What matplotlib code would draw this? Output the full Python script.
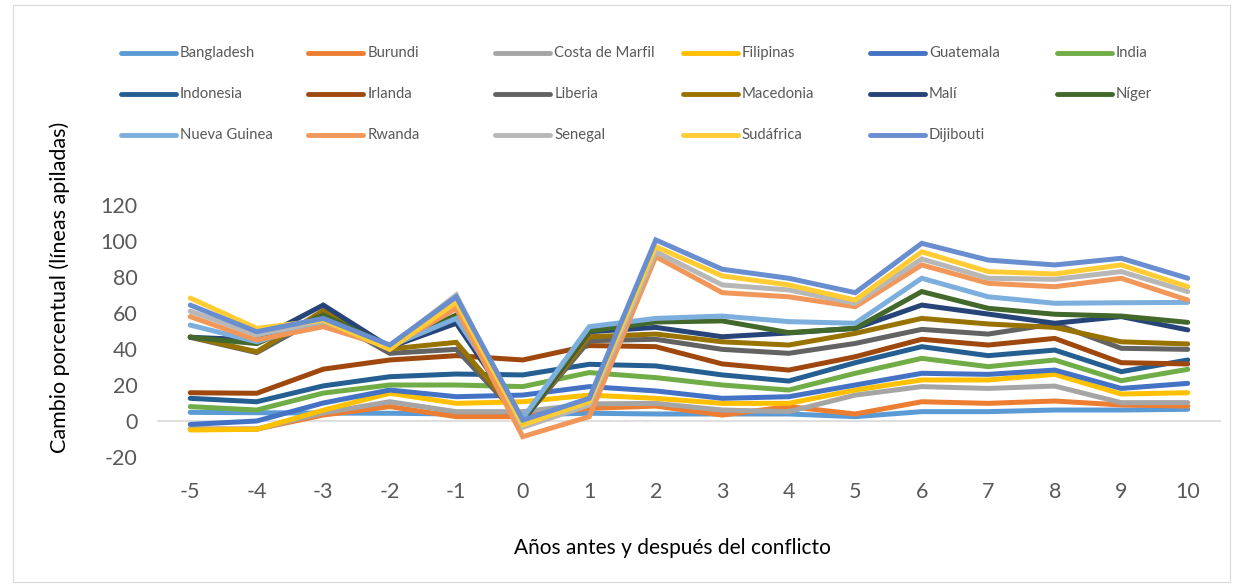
import matplotlib.pyplot as plt
from matplotlib.lines import Line2D
from matplotlib.patches import Rectangle

plt.rcParams['font.family'] = ['Lato', 'DejaVu Sans']
plt.rcParams['axes.unicode_minus'] = False

# years relative to the conflict
years = list(range(-5, 11))

# stacked levels (líneas apiladas)
paises = ['Bangladesh', 'Burundi', 'Costa de Marfil', 'Filipinas', 'Guatemala', 'India',
          'Indonesia', 'Irlanda', 'Liberia', 'Macedonia', 'Malí', 'Níger',
          'Nueva Guinea', 'Rwanda', 'Senegal', 'Sudáfrica', 'Dijibouti']

bangladesh = [4.8, 4.6, 4.4, 4.3, 3.9, 3.5, 4.3, 3.9, 3.9, 3.9, 2.4, 5.2, 5.2, 6.1, 6.1, 6.5]
burundi = [-4.5, -4.5, 3.3, 8.0, 2.4, 2.4, 7.0, 8.3, 3.3, 8.0, 3.9, 10.7, 9.8, 11.1, 8.9, 8.3]
costa_marfil = [-4.5, -4.5, 4.5, 10.7, 5.2, 5.2, 9.5, 9.8, 6.1, 5.2, 14.4, 19.1, 18.1, 19.4, 10.2, 10.2]
filipinas = [-5.0, -4.6, 6.0, 15.4, 9.8, 10.7, 14.4, 12.6, 9.8, 9.8, 17.2, 22.8, 22.8, 25.9, 15.0, 15.7]
guatemala = [-1.9, 0.0, 10.0, 17.2, 13.5, 14.4, 19.1, 16.7, 12.6, 13.5, 20.0, 26.5, 25.9, 28.3, 18.1, 20.9]
india = [8.0, 6.1, 15.5, 20.0, 20.0, 19.1, 26.9, 24.1, 20.0, 17.2, 26.5, 34.8, 30.2, 33.9, 22.4, 28.7]
indonesia = [12.6, 10.7, 19.5, 24.6, 26.1, 25.6, 31.5, 30.6, 25.6, 22.2, 32.4, 41.3, 36.3, 39.4, 27.4, 33.9]
irlanda = [15.7, 15.4, 28.8, 33.9, 36.3, 33.9, 41.9, 41.3, 31.7, 28.3, 35.7, 45.4, 42.2, 45.9, 32.4, 31.7]
liberia = [46.5, 38.0, 58.5, 37.6, 39.8, 0.5, 44.6, 45.4, 39.8, 37.6, 43.1, 50.9, 48.3, 54.0, 40.4, 39.8]
macedonia = [46.8, 38.5, 61.3, 40.0, 43.7, 0.5, 46.8, 48.3, 44.0, 42.2, 48.7, 57.0, 53.9, 52.0, 44.0, 42.8]
mali = [46.5, 45.0, 64.4, 41.0, 54.3, 0.0, 49.6, 52.0, 46.8, 48.9, 51.5, 64.4, 59.4, 54.3, 58.0, 50.6]
niger = [46.5, 43.0, 58.9, 41.5, 58.9, 0.5, 50.0, 55.0, 55.6, 49.1, 51.5, 71.9, 62.6, 59.3, 58.3, 54.8]
nueva_guinea = [53.3, 44.0, 55.0, 41.5, 57.0, 1.5, 52.4, 57.0, 58.3, 55.2, 54.3, 79.3, 69.0, 65.4, 65.7, 65.9]
rwanda = [58.0, 45.0, 52.4, 41.0, 62.6, -8.7, 2.4, 91.3, 71.3, 69.0, 63.5, 86.7, 76.5, 74.6, 79.3, 67.2]
senegal = [61.0, 47.8, 55.5, 41.5, 70.0, -3.5, 8.9, 94.0, 75.6, 72.8, 65.4, 90.0, 79.3, 78.7, 83.0, 71.9]
sudafrica = [68.3, 51.5, 56.0, 39.8, 66.0, -2.2, 10.7, 96.9, 80.6, 75.6, 67.2, 94.0, 83.0, 81.7, 86.7, 74.6]
dijibouti = [64.4, 49.6, 57.0, 42.2, 69.0, 0.5, 12.6, 100.6, 84.3, 79.3, 71.3, 98.7, 89.4, 86.7, 90.4, 79.3]

series = [bangladesh, burundi, costa_marfil, filipinas, guatemala, india, indonesia, irlanda,
          liberia, macedonia, mali, niger, nueva_guinea, rwanda, senegal, sudafrica, dijibouti]

colores = ['#5B9BD5', '#ED7D31', '#A5A5A5', '#FFC000', '#4472C4', '#70AD47',
           '#255E91', '#9E480E', '#636363', '#997300', '#264478', '#43682B',
           '#7CAFDD', '#F1975A', '#B7B7B7', '#FFCD33', '#698ED0']

W, H = 1238, 587
fig = plt.figure(figsize=(W / 100, H / 100), dpi=100)

# light outer frame of the chart
fig.patches.append(Rectangle((13 / W, 5 / H), 1217 / W, 577 / H, transform=fig.transFigure,
                             fill=False, edgecolor='#D9D9D9', linewidth=0.8))

ax = fig.add_axes([157 / W, 1 - 457 / H, 1064 / W, 252 / H])
for vals, c in zip(series, colores):
    ax.plot(years, vals, color=c, linewidth=3.6, solid_capstyle='round', solid_joinstyle='miter')

ax.axhline(0, color='#D9D9D9', linewidth=1.2, zorder=0)
ax.set_xlim(-5.5, 10.5)
ax.set_ylim(-20, 120)
ax.set_xticks(years)
ax.set_yticks(range(-20, 121, 20))
for s in ax.spines.values():
    s.set_visible(False)
ax.tick_params(length=0, labelsize=15.5, labelcolor='#595959', pad=14)
ax.tick_params(axis='x', pad=18)
ax.set_xlabel('Años antes y después del conflicto', fontsize=15)
ax.xaxis.set_label_coords((672 - 157) / 1064, (457 - 548) / 252)
ax.xaxis.label.set_va('center')
ax.set_ylabel('Cambio porcentual (líneas apiladas)', fontsize=15.5)
ax.yaxis.set_label_coords((60 - 157) / 1064, (457 - 287) / 252)
ax.yaxis.label.set_va('center')

# legend, 6 columns x 3 rows
for i, (name, c) in enumerate(zip(paises, colores)):
    row, col = divmod(i, 6)
    x0 = 121 + col * 187.2
    y = 1 - (53 + row * 41) / H
    fig.add_artist(Line2D([x0 / W, (x0 + 55) / W], [y, y], transform=fig.transFigure,
                          color=c, linewidth=3.5, solid_capstyle='round'))
    fig.text((x0 + 59) / W, y, name, fontsize=10.7, color='#595959', va='center', ha='left')

fig.savefig('out.png', dpi=100)
